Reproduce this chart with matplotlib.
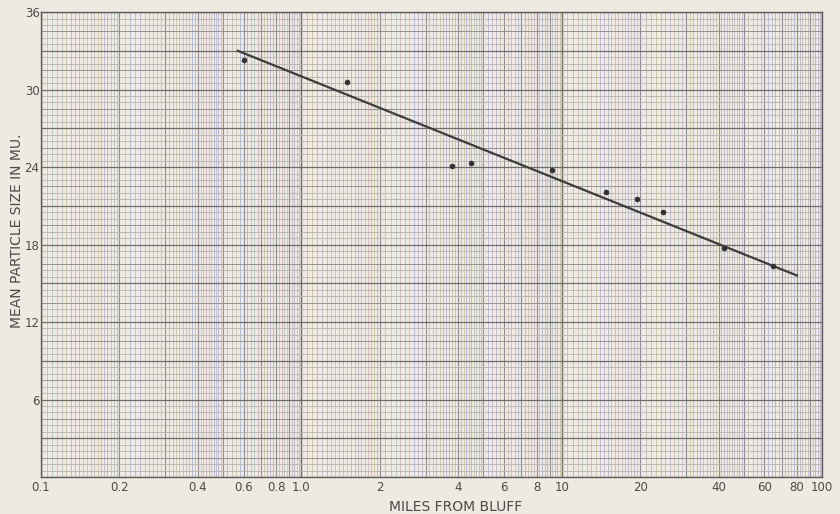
"""
Mean particle size vs distance from bluff (semi-log graph paper)
"""
import numpy as np
import matplotlib
matplotlib.use("Agg")
import matplotlib.pyplot as plt

# measured samples
miles = [0.6, 1.5, 3.8, 4.5, 9.2, 14.8, 19.5, 24.4, 42.0, 65.0]
size_mu = [32.3, 30.6, 24.1, 24.3, 23.8, 22.1, 21.5, 20.5, 17.7, 16.3]

# fitted line end points
fit_miles = [0.57, 80.0]
fit_size = [33.0, 15.6]

x_ticks = [0.1, 0.2, 0.4, 0.6, 0.8, 1.0, 2, 4, 6, 8, 10, 20, 40, 60, 80, 100]
x_labels = ["0.1", "0.2", "0.4", "0.6", "0.8", "1.0", "2", "4", "6", "8",
            "10", "20", "40", "60", "80", "100"]
y_ticks = [6, 12, 18, 24, 30, 36]

PAPER = "#efeae1"
INK = "#4a4a48"

fig = plt.figure(figsize=(8.4, 5.14), dpi=100, facecolor=PAPER)
ax = fig.add_axes([0.0488, 0.072, 0.93, 0.9045])
ax.set_facecolor("#efebe4")
ax.set_xscale("log")
ax.set_xlim(0.1, 100)
ax.set_ylim(0, 36)

# ------------------- graph paper grid -------------------
fine_x = []
medium_x = []
for dec in [0.1, 1, 10]:
    fine_x += list(dec * np.arange(1.0, 2.0, 0.05))
    fine_x += list(dec * np.arange(2.0, 5.0, 0.1))
    fine_x += list(dec * np.arange(5.0, 10.0, 0.2))
    medium_x += [dec * k for k in range(1, 10)]

tints = ["#bdb9d0", "#cbc6b8", "#b9cbc6", "#d3bcc1", "#c2c2c2", "#d0cba8",
         "#b6bdd6", "#c8bcd0"]
for i, xv in enumerate(fine_x):
    ax.axvline(xv, color=tints[i % len(tints)], lw=0.7, zorder=0)
for xv in medium_x:
    ax.axvline(xv, color="#8f8d9a", lw=0.8, zorder=0)
for xv in [0.1, 1, 10, 100]:
    ax.axvline(xv, color="#6e6c6c", lw=1.0, zorder=0)

for yv in np.arange(0, 36.01, 0.5):
    ax.axhline(yv, color="#b5b2ad", lw=0.6, zorder=0)
for yv in np.arange(0, 36.01, 1.5):
    ax.axhline(yv, color="#96938f", lw=0.7, zorder=0)
for yv in np.arange(0, 36.01, 3):
    ax.axhline(yv, color="#6f6d6a", lw=0.9, zorder=0)

# ------------------- data -------------------
ax.plot(fit_miles, fit_size, color="#3c3c3c", lw=1.6, zorder=3)
ax.scatter(miles, size_mu, s=9, color="#333333", zorder=4)

ax.set_xticks(x_ticks)
ax.set_xticklabels(x_labels)
ax.xaxis.set_minor_locator(matplotlib.ticker.NullLocator())
ax.set_yticks(y_ticks)
ax.tick_params(length=0, colors=INK, labelsize=8.5)
ax.tick_params(axis="x", pad=3)
ax.tick_params(axis="y", pad=1)

for sp in ax.spines.values():
    sp.set_color("#5e5c5a")
    sp.set_linewidth(1.0)

fig.text(0.542, 0.0, "MILES FROM BLUFF", ha="center", va="bottom",
         fontsize=10, color=INK)
fig.text(0.012, 0.55, "MEAN PARTICLE SIZE IN MU.", rotation=90,
         ha="left", va="center", fontsize=10, color=INK)

fig.savefig("out.png", dpi=100, facecolor=PAPER)
